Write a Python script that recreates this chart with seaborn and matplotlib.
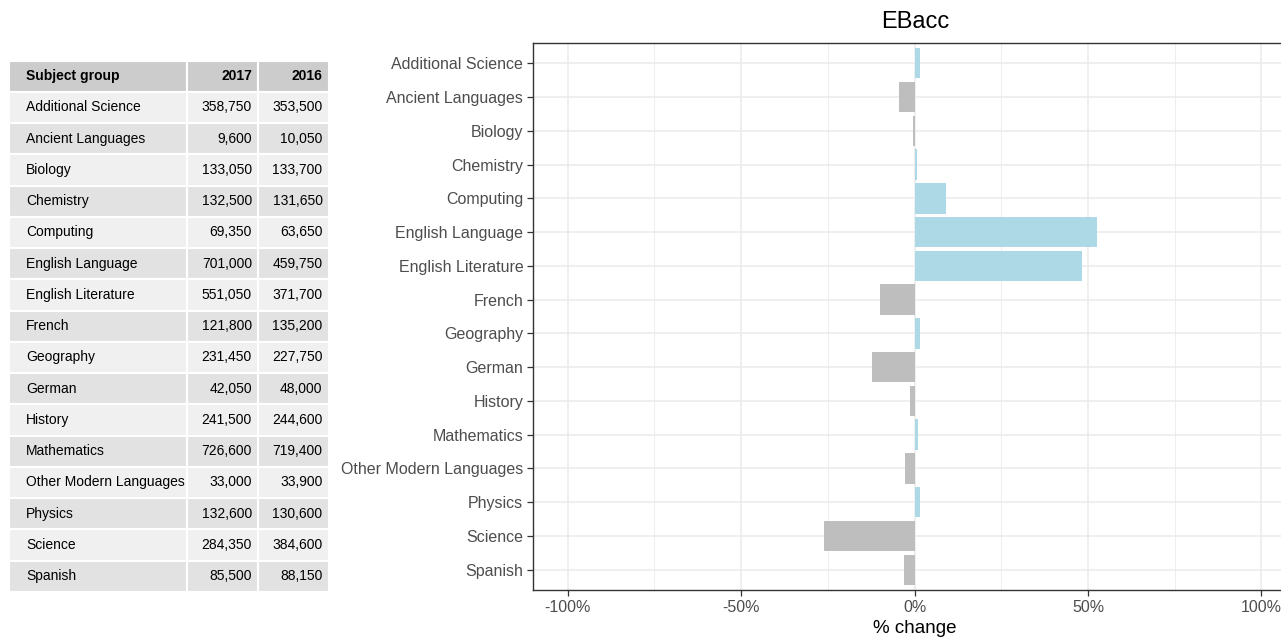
import matplotlib
matplotlib.use("Agg")
import matplotlib.pyplot as plt
import matplotlib.patches as mpatches
from matplotlib.ticker import FixedLocator, PercentFormatter
import seaborn as sns
import pandas as pd

subjects = ["Additional Science", "Ancient Languages", "Biology", "Chemistry",
            "Computing", "English Language", "English Literature", "French",
            "Geography", "German", "History", "Mathematics",
            "Other Modern Languages", "Physics", "Science", "Spanish"]
entries_2017 = ["358,750", "9,600", "133,050", "132,500", "69,350", "701,000",
                "551,050", "121,800", "231,450", "42,050", "241,500", "726,600",
                "33,000", "132,600", "284,350", "85,500"]
entries_2016 = ["353,500", "10,050", "133,700", "131,650", "63,650", "459,750",
                "371,700", "135,200", "227,750", "48,000", "244,600", "719,400",
                "33,900", "130,600", "384,600", "88,150"]
pct_change = [1.5, -4.5, -0.5, 0.6, 9.0, 52.5, 48.3, -9.9, 1.6, -12.4, -1.3,
              1.0, -2.7, 1.5, -26.1, -3.0]
table_header = ["Subject group", "2017", "2016"]
x_ticks = [-100, -50, 0, 50, 100]

sns.set_style("white")
plt.rcParams["font.family"] = ["Liberation Sans", "DejaVu Sans"]
plt.rcParams["axes.unicode_minus"] = False

W, H = 1281, 638
fig = plt.figure(figsize=(W / 100, H / 100), dpi=100)

# ---------- bar chart ----------
ax_l, ax_r, ax_t, ax_b = 533, 915 + 1.1 * 346.5, 43, 590
ax = fig.add_axes([ax_l / W, 1 - ax_b / H, (ax_r - ax_l) / W, (ax_b - ax_t) / H])

df = pd.DataFrame({"subject": subjects, "pct": pct_change})
df["dir"] = ["pos" if v >= 0 else "neg" for v in df["pct"]]
sns.barplot(data=df, x="pct", y="subject", hue="dir", orient="h", dodge=False,
            palette={"pos": "#ADD8E6", "neg": "#BEBEBE"}, width=0.9,
            legend=False, ax=ax, saturation=1, zorder=3,
            edgecolor="none", linewidth=0)

ax.set_xlim(-110, 110)
ax.set_ylim(len(subjects) - 0.4, -0.6)
ax.xaxis.set_major_locator(FixedLocator(x_ticks))
ax.xaxis.set_minor_locator(FixedLocator([-75, -25, 25, 75]))
ax.xaxis.set_major_formatter(PercentFormatter(decimals=0))
ax.grid(True, which="major", color="#EBEBEB", linewidth=1.1, zorder=0)
ax.grid(True, which="minor", axis="x", color="#EBEBEB", linewidth=0.6, zorder=0)
ax.set_axisbelow(True)
for s in ax.spines.values():
    s.set_color("#333333")
    s.set_linewidth(1.0)
ax.tick_params(axis="both", which="major", length=4, width=0.9, color="#333333",
               labelsize=11.5, labelcolor="#4D4D4D", pad=3, left=True, bottom=True)
ax.tick_params(axis="x", which="minor", length=0)
ax.set_ylabel("")
ax.set_xlabel("% change", fontsize=13.5, color="black", labelpad=4)
fig.text(915 / W, 1 - 22 / H, "EBacc", ha="center", va="center",
         fontsize=17, color="black")

# ---------- table ----------
tx = fig.add_axes([0, 0, 340 / W, 1])
tx.set_xlim(0, 340)
tx.set_ylim(H, 0)
tx.axis("off")
col_edges = [9, 186.5, 258, 328.5]
top = 60.5
row_h = 31.25
n_rows = len(subjects) + 1
fs = 10
for r in range(n_rows):
    y0 = top + r * row_h
    if r == 0:
        color = "#CCCCCC"
        texts = table_header
        weight = "bold"
    else:
        color = "#F0F0F0" if r % 2 == 1 else "#E2E2E2"
        texts = [subjects[r - 1], entries_2017[r - 1], entries_2016[r - 1]]
        weight = "normal"
    for c in range(3):
        tx.add_patch(mpatches.Rectangle((col_edges[c], y0), col_edges[c + 1] - col_edges[c],
                                        row_h, facecolor=color, edgecolor="white",
                                        linewidth=1.5))
        if c == 0:
            tx.text(col_edges[0] + 17, y0 + row_h / 2, texts[c], ha="left", va="center",
                    fontsize=fs, fontweight=weight, color="black")
        else:
            tx.text(col_edges[c + 1] - 6, y0 + row_h / 2, texts[c], ha="right", va="center",
                    fontsize=fs, fontweight=weight, color="black")

fig.savefig("out.png", dpi=100)
